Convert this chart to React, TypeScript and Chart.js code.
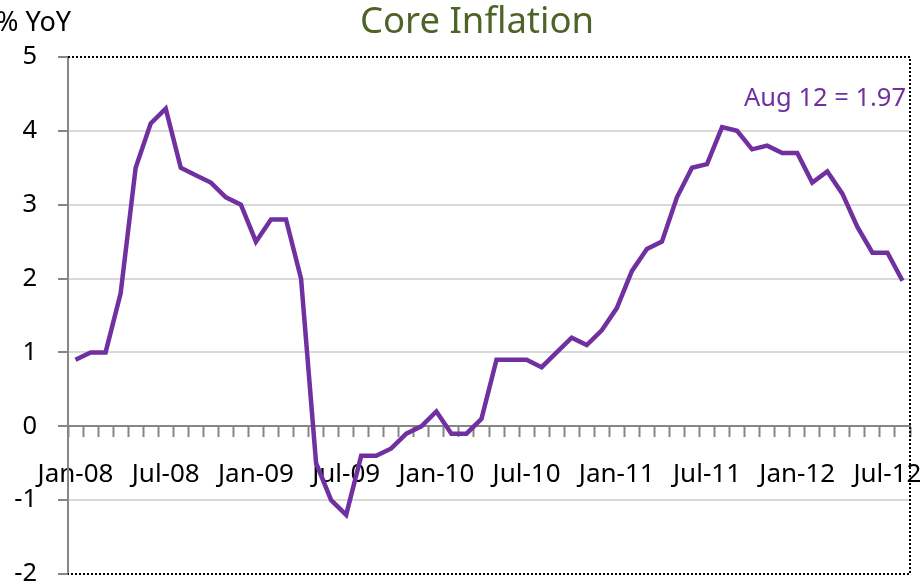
import React, { useEffect, useRef } from 'react';
import { Chart, registerables } from 'chart.js';

Chart.register(...registerables);

const categories = [
  'Jan-08', 'Feb-08', 'Mar-08', 'Apr-08', 'May-08', 'Jun-08', 'Jul-08', 'Aug-08', 'Sep-08', 'Oct-08', 'Nov-08', 'Dec-08',
  'Jan-09', 'Feb-09', 'Mar-09', 'Apr-09', 'May-09', 'Jun-09', 'Jul-09', 'Aug-09', 'Sep-09', 'Oct-09', 'Nov-09', 'Dec-09',
  'Jan-10', 'Feb-10', 'Mar-10', 'Apr-10', 'May-10', 'Jun-10', 'Jul-10', 'Aug-10', 'Sep-10', 'Oct-10', 'Nov-10', 'Dec-10',
  'Jan-11', 'Feb-11', 'Mar-11', 'Apr-11', 'May-11', 'Jun-11', 'Jul-11', 'Aug-11', 'Sep-11', 'Oct-11', 'Nov-11', 'Dec-11',
  'Jan-12', 'Feb-12', 'Mar-12', 'Apr-12', 'May-12', 'Jun-12', 'Jul-12', 'Aug-12',
];

const coreInflation = [
  0.9, 1.0, 1.0, 1.8, 3.5, 4.1, 4.3, 3.5, 3.4, 3.3, 3.1, 3.0,
  2.5, 2.8, 2.8, 2.0, -0.5, -1.0, -1.2, -0.4, -0.4, -0.3, -0.1, 0.0,
  0.2, -0.1, -0.1, 0.1, 0.9, 0.9, 0.9, 0.8, 1.0, 1.2, 1.1, 1.3,
  1.6, 2.1, 2.4, 2.5, 3.1, 3.5, 3.55, 4.05, 4.0, 3.75, 3.8, 3.7,
  3.7, 3.3, 3.45, 3.15, 2.7, 2.35, 2.35, 1.97,
];

const yMin = -2;
const yMax = 5;
const yStep = 1;

const titleText = 'Core Inflation';
const unitText = '% YoY';
const noteText = 'Aug 12 = 1.97';

const FONT = '"Noto Sans", sans-serif';
const PURPLE = '#7030A0';
const OLIVE = '#4F6228';
const AXIS_GRAY = '#868686';
const GRID_GRAY = '#D9D9D9';

export default function App() {
  const ref = useRef<HTMLCanvasElement>(null);

  useEffect(() => {
    if (!ref.current) return;

    const overlay = {
      id: 'overlay',
      afterDraw(chart: any) {
        const { ctx, chartArea: a } = chart;
        ctx.save();
        // dotted frame (top, right, bottom)
        ctx.strokeStyle = '#000';
        ctx.lineWidth = 2;
        ctx.setLineDash([2, 2]);
        ctx.beginPath();
        ctx.moveTo(a.left, a.top);
        ctx.lineTo(a.right, a.top);
        ctx.lineTo(a.right, a.bottom);
        ctx.lineTo(a.left, a.bottom);
        ctx.stroke();
        ctx.setLineDash([]);

        // title
        ctx.fillStyle = OLIVE;
        ctx.font = `36.5px ${FONT}`;
        ctx.textAlign = 'center';
        ctx.textBaseline = 'middle';
        ctx.fillText(titleText, 477, 23);

        // unit label
        ctx.fillStyle = '#000';
        ctx.font = `27px ${FONT}`;
        ctx.textAlign = 'right';
        ctx.fillText(unitText, 71, 23);

        // latest value note
        ctx.fillStyle = PURPLE;
        ctx.font = `25.5px ${FONT}`;
        ctx.textAlign = 'right';
        ctx.fillText(noteText, 906, 99);
        ctx.restore();
      },
    };

    const chart = new Chart(ref.current, {
      type: 'line',
      data: {
        labels: categories,
        datasets: [
          {
            data: coreInflation,
            borderColor: PURPLE,
            borderWidth: 4.5,
            pointRadius: 0,
            tension: 0,
            fill: false,
          },
        ],
      },
      options: {
        animation: false,
        responsive: true,
        maintainAspectRatio: false,
        layout: { padding: { left: 0, top: 57, right: 13, bottom: 13 } },
        plugins: {
          legend: { display: false },
          title: { display: false },
          tooltip: { enabled: false },
        },
        scales: {
          x: {
            type: 'category',
            position: { y: 0 } as any,
            offset: true,
            afterFit: (scale: any) => {
              scale.paddingLeft = 0;
              scale.paddingRight = 0;
            },
            grid: {
              offset: true,
              drawOnChartArea: false,
              drawTicks: true,
              tickLength: 10,
              tickColor: AXIS_GRAY,
              tickWidth: 2,
            },
            border: { display: true, color: AXIS_GRAY, width: 2 },
            ticks: {
              autoSkip: false,
              maxRotation: 0,
              minRotation: 0,
              padding: 23,
              color: '#000',
              font: { family: FONT, size: 26 },
              callback: (_v: any, i: number) => {
                const l = categories[i];
                return l.startsWith('Jan') || l.startsWith('Jul') ? l : '';
              },
            },
          },
          y: {
            min: yMin,
            max: yMax,
            afterFit: (scale: any) => {
              scale.width = 68;
              scale.paddingTop = 0;
              scale.paddingBottom = 0;
            },
            grid: {
              color: (c: any) =>
                c.tick && (c.tick.value === yMax || c.tick.value === yMin) ? 'rgba(0,0,0,0)' : GRID_GRAY,
              lineWidth: 2,
              drawTicks: true,
              tickLength: 10,
              tickColor: AXIS_GRAY,
              tickWidth: 2,
            },
            border: { display: true, color: AXIS_GRAY, width: 2 },
            ticks: {
              stepSize: yStep,
              padding: 21,
              color: '#000',
              font: { family: FONT, size: 25.5 },
            },
          },
        },
      },
      plugins: [overlay],
    });

    return () => chart.destroy();
  }, []);

  return (
    <div style={{ position: 'absolute', left: 0, top: 0, width: 923, height: 587 }}>
      <canvas ref={ref} />
    </div>
  );
}
